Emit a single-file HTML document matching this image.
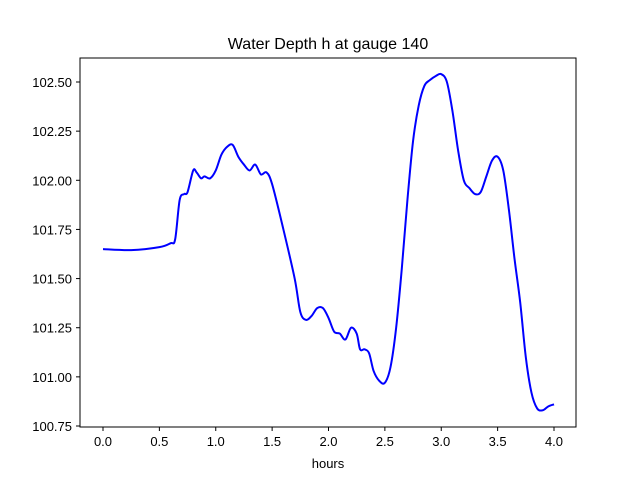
<!DOCTYPE html>
<html><head><meta charset="utf-8"><style>
body{margin:0;background:#fff;}
svg{display:block;font-family:"Liberation Sans","DejaVu Sans",sans-serif;}
</style></head><body>
<svg id="chart" width="640" height="480">
<rect width="640" height="480" fill="#fff"/>
<text x="328" y="49" text-anchor="middle" font-size="16">Water Depth h at gauge 140</text>
<rect x="80" y="58" width="496" height="369" fill="none" stroke="#000" stroke-width="1"/>
<g id="xticks"></g>
<g id="yticks"></g>
<text x="328" y="468" text-anchor="middle" font-size="13">hours</text>
<path id="line" fill="none" stroke="#0000ff" stroke-width="2"/>
</svg>
<script>
const hours=[0,0.25,0.5,0.6,0.64,0.68,0.72,0.75,0.8,0.83,0.87,0.9,0.95,1.0,1.05,1.1,1.15,1.2,1.25,1.3,1.35,1.4,1.45,1.5,1.6,1.7,1.75,1.8,1.85,1.9,1.95,2.0,2.05,2.1,2.15,2.2,2.25,2.28,2.32,2.36,2.4,2.45,2.5,2.55,2.6,2.65,2.7,2.75,2.8,2.85,2.9,2.95,3.0,3.05,3.1,3.15,3.2,3.25,3.3,3.35,3.4,3.45,3.5,3.55,3.6,3.65,3.7,3.75,3.8,3.85,3.9,3.95,4.0];
const depth=[101.65,101.645,101.66,101.68,101.70,101.9,101.93,101.94,102.05,102.04,102.01,102.02,102.01,102.05,102.13,102.17,102.18,102.12,102.08,102.05,102.08,102.03,102.04,101.98,101.75,101.5,101.33,101.29,101.31,101.35,101.35,101.30,101.23,101.22,101.19,101.25,101.22,101.14,101.14,101.12,101.03,100.98,100.97,101.05,101.25,101.55,101.9,102.2,102.38,102.48,102.51,102.53,102.54,102.5,102.35,102.15,102.0,101.96,101.93,101.94,102.02,102.10,102.12,102.05,101.85,101.6,101.38,101.1,100.92,100.84,100.83,100.85,100.86];
const xTicks=[0,0.5,1,1.5,2,2.5,3,3.5,4];
const xTickLabels=["0.0","0.5","1.0","1.5","2.0","2.5","3.0","3.5","4.0"];
const yTicks=[100.75,101,101.25,101.5,101.75,102,102.25,102.5];
const yTickLabels=["100.75","101.00","101.25","101.50","101.75","102.00","102.25","102.50"];
const X=v=>103+v*112.75;
const Y=v=>426-(v-100.75)*196.57;
const ns="http://www.w3.org/2000/svg";
const xg=document.getElementById('xticks'),yg=document.getElementById('yticks');
xTicks.forEach((t,i)=>{
 const l=document.createElementNS(ns,'line');
 l.setAttribute('x1',X(t));l.setAttribute('x2',X(t));l.setAttribute('y1',427);l.setAttribute('y2',431);l.setAttribute('stroke','#000');
 
 
 xg.appendChild(l);
 const s=document.createElementNS(ns,'text');
 s.setAttribute('x',X(t));s.setAttribute('y',446);s.setAttribute('text-anchor','middle');s.setAttribute('font-size','13');
 s.textContent=xTickLabels[i];
 
 
 xg.appendChild(s);
});
yTicks.forEach((t,i)=>{
 const l=document.createElementNS(ns,'line');
 l.setAttribute('x1',76);l.setAttribute('x2',80);l.setAttribute('y1',Y(t));l.setAttribute('y2',Y(t));l.setAttribute('stroke','#000');
 
 
 yg.appendChild(l);
 const s=document.createElementNS(ns,'text');
 s.setAttribute('x',72);s.setAttribute('y',Y(t)+5);s.setAttribute('text-anchor','end');s.setAttribute('font-size','13');
 s.textContent=yTickLabels[i];
 
 
 yg.appendChild(s);
});
// Catmull-Rom smoothing
const pts=hours.map((h,i)=>[X(h),Y(depth[i])]);
let d='M'+pts[0][0]+','+pts[0][1];
for(let i=0;i<pts.length-1;i++){
 const p0=pts[i-1]||pts[i],p1=pts[i],p2=pts[i+1],p3=pts[i+2]||p2;
 const c1=[p1[0]+(p2[0]-p0[0])/6,p1[1]+(p2[1]-p0[1])/6];
 const c2=[p2[0]-(p3[0]-p1[0])/6,p2[1]-(p3[1]-p1[1])/6];
 d+=' C'+c1+' '+c2+' '+p2;
}
document.getElementById('line').setAttribute('d',d);
</script>
</body></html>
